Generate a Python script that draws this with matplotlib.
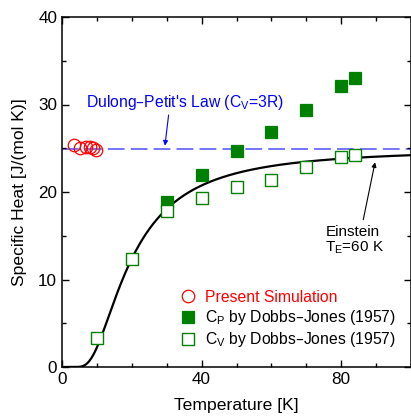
import numpy as np
import matplotlib
matplotlib.use('Agg')
import matplotlib.pyplot as plt
from matplotlib.ticker import MultipleLocator

plt.rcParams['font.family'] = ['Liberation Sans', 'DejaVu Sans']
plt.rcParams['mathtext.default'] = 'regular'

# Data
R = 8.314
T_E = 60.0
sim_T = [3.5, 5.2, 6.8, 8.0, 9.0, 9.7]
sim_C = [25.4, 25.0, 25.2, 25.1, 25.0, 24.8]
cp_T = [30, 40, 50, 60, 70, 80, 84]
cp_C = [18.9, 21.9, 24.7, 26.9, 29.4, 32.1, 33.0]
cv_T = [10, 20, 30, 40, 50, 60, 70, 80, 84]
cv_C = [3.35, 12.4, 17.8, 19.3, 20.6, 21.4, 22.9, 24.0, 24.2]

fig = plt.figure(figsize=(4.11, 4.17), dpi=100)
ax = fig.add_axes([62/411, 50/417, 349/411, 350/417])

# Einstein model
T = np.linspace(0.3, 100, 600)
x = T_E / T
with np.errstate(over='ignore'):
    C_E = 3 * R * x**2 * np.exp(x) / (np.exp(x) - 1)**2
C_E = np.nan_to_num(C_E)
ax.plot(T, C_E, color='black', lw=1.6, zorder=2)

# Dulong-Petit
ax.axhline(3 * R, color='#5050ff', lw=1.1, dashes=(11, 4), zorder=1)

ax.plot(sim_T, sim_C, 'o', ms=9, mfc='none', mec='red', mew=0.9,
        label='Present Simulation', zorder=3)
ax.plot(cp_T, cp_C, 's', ms=8, mfc='green', mec='green', mew=0.9,
        label='C$_P$ by Dobbs–Jones (1957)', zorder=3)
ax.plot(cv_T, cv_C, 's', ms=8, mfc='white', mec='green', mew=1.0,
        label='C$_V$ by Dobbs–Jones (1957)', zorder=4)

ax.set_xlim(0, 100)
ax.set_ylim(0, 40)
ax.xaxis.set_major_locator(MultipleLocator(40))
ax.xaxis.set_minor_locator(MultipleLocator(10))
ax.yaxis.set_major_locator(MultipleLocator(10))
ax.yaxis.set_minor_locator(MultipleLocator(5))
ax.tick_params(which='both', direction='in', top=True, right=True, width=1.0,
               labelsize=12.3)
ax.tick_params(which='major', length=5)
ax.tick_params(which='minor', length=3)
for s in ax.spines.values():
    s.set_linewidth(1.1)

ax.set_xlabel('Temperature [K]', fontsize=12.6, labelpad=8)
ax.set_ylabel('Specific Heat [J/(mol K)]', fontsize=12.6, labelpad=8)

ax.annotate("Dulong–Petit's Law (C$_V$=3R)", xy=(29.5, 25.3), xytext=(6.8, 30.2),
            color='blue', fontsize=11.3, va='center', ha='left',
            arrowprops=dict(arrowstyle='-|>', color='blue', lw=0.8,
                            shrinkA=0, shrinkB=0, mutation_scale=7,
                            relpos=(0.42, 0.0)))
ax.annotate("Einstein\nT$_E$=60 K", xy=(89.7, 23.4), xytext=(75.5, 16.2),
            color='black', fontsize=11, va='top', ha='left', linespacing=1.0,
            arrowprops=dict(arrowstyle='-|>', color='black', lw=0.8,
                            shrinkA=2, shrinkB=0, mutation_scale=7,
                            relpos=(0.62, 1.0)))

leg = ax.legend(loc='upper left', bbox_to_anchor=(0.32, 0.238), frameon=False,
                fontsize=11.3, handlelength=1.0, handletextpad=0.6,
                labelspacing=0.2, borderaxespad=0)
leg.get_texts()[0].set_color('red')

fig.savefig('out.png', dpi=100)
